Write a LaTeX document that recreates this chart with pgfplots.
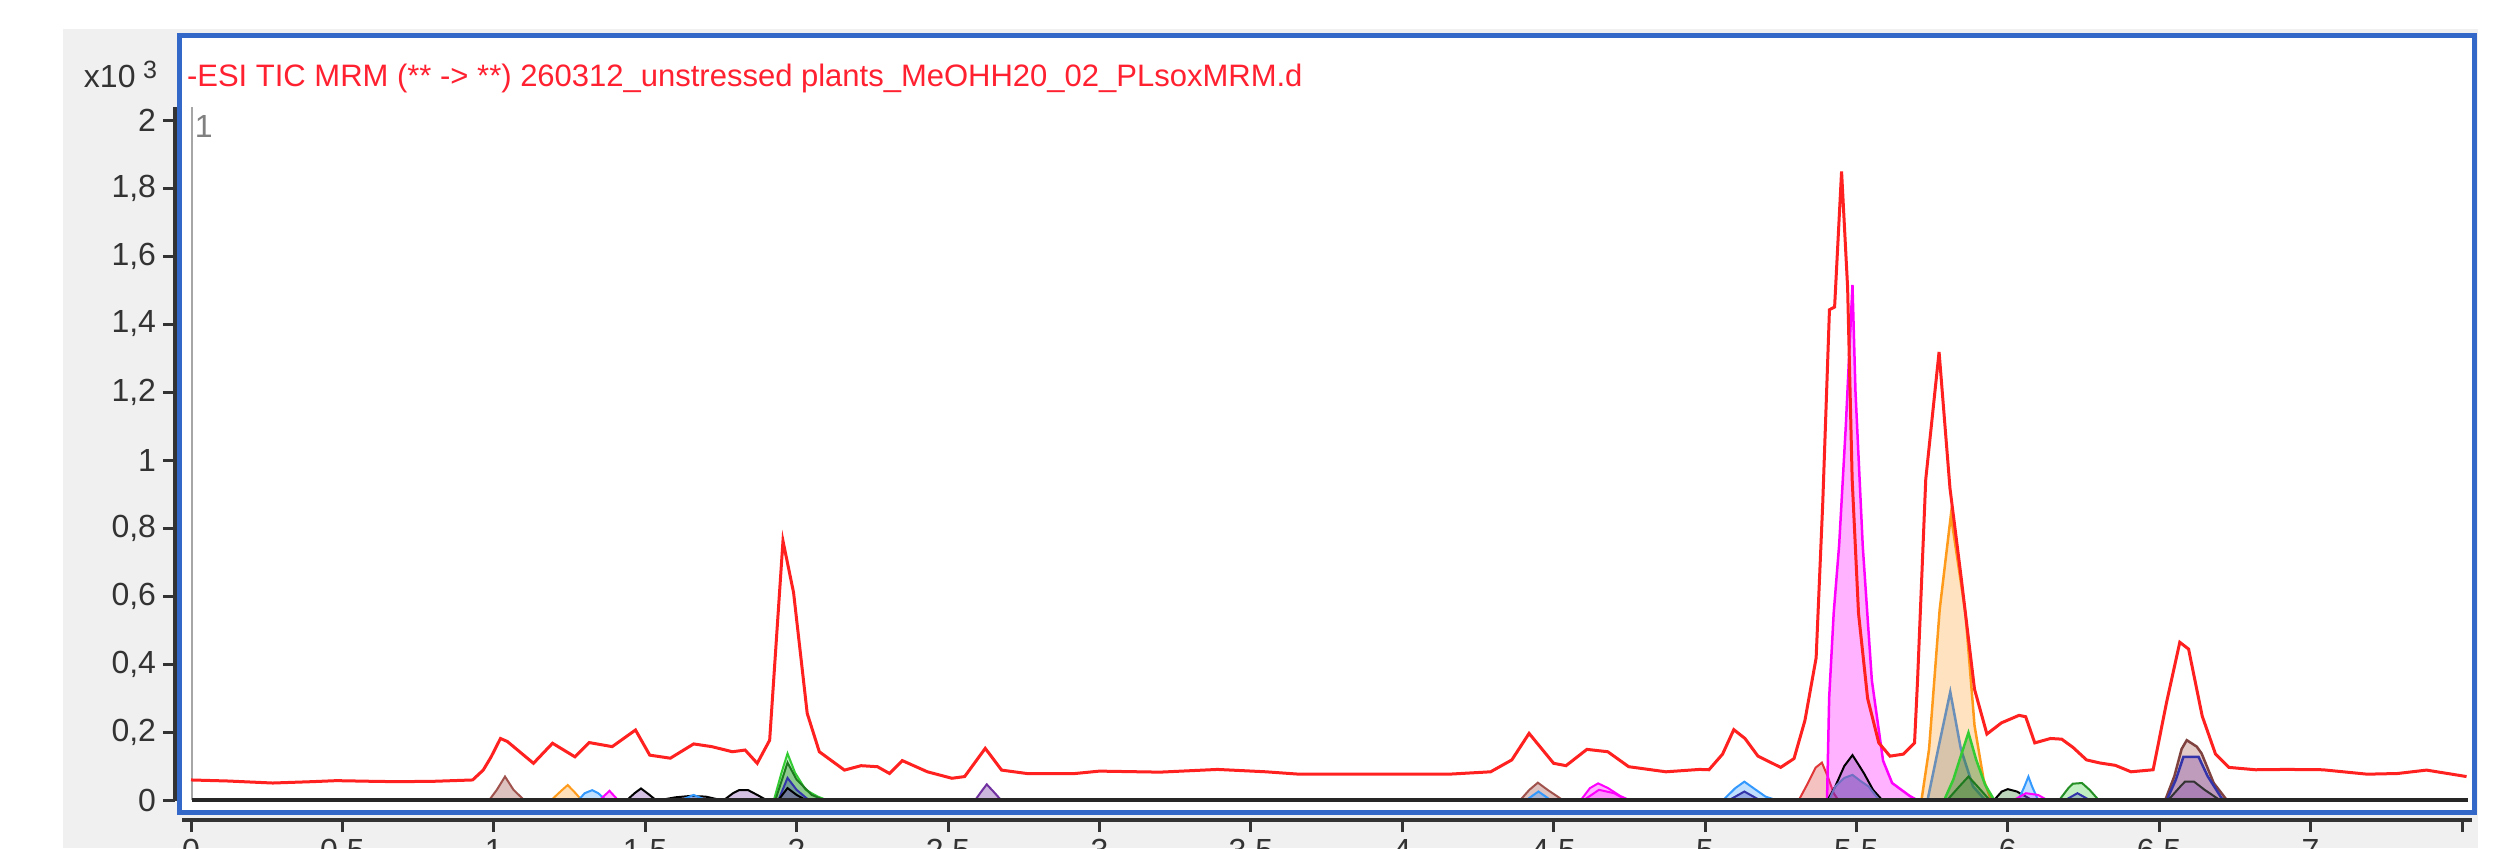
\documentclass[border=0pt]{standalone}
\usepackage{pgfplots}
\pgfplotsset{compat=1.18}
\usepackage{fontspec}
\setmainfont{Liberation Sans}
\definecolor{bgray}{HTML}{F0F0F0}
\definecolor{fblue}{HTML}{3468C8}
\definecolor{tred}{HTML}{FF2030}
\definecolor{lred}{HTML}{FF2020}
\definecolor{lblgray}{HTML}{333333}
\definecolor{cmag}{HTML}{FF00FF}
\definecolor{corange}{HTML}{FF9A1A}
\definecolor{csteel}{HTML}{6A8FB8}
\definecolor{cgreen}{HTML}{33CC33}
\definecolor{cdgreen}{HTML}{1E7A1E}
\definecolor{cblue}{HTML}{3399FF}
\definecolor{cnavy}{HTML}{3333AA}
\definecolor{cpurple}{HTML}{7030A0}
\definecolor{cbrown}{HTML}{A0524D}
\definecolor{cred}{HTML}{E03838}
\newcommand\tlfont{\fontsize{6.4}{7}\selectfont}
\begin{document}
\begin{tikzpicture}
\path[use as bounding box] (0pt,0pt) rectangle (502.2pt,169.6pt);
\begin{scope}[x=0.2pt,y=0.2pt]
\fill[white] (0,0) rectangle (2511,848);
\fill[bgray] (63,0) rectangle (2478,819);
\filldraw[fill=white, draw=fblue, line width=1pt] (179.5,35.5) rectangle (2474.5,813);
\draw[gray!70, line width=0.35pt] (192,48) -- (192,741);
\draw[lblgray, line width=0.7pt] (175,47) -- (175,741);
\draw[lblgray, line width=0.7pt] (182,28) -- (2472,28);
\end{scope}

% data axis
\begin{axis}[at={(38.2pt,9.6pt)}, anchor=south west, scale only axis,
  width=454.2pt, height=136pt, xmin=0, xmax=7.5, ymin=0, ymax=2,
  hide axis, clip=false]
% small peaks
\addplot[draw=cbrown, line width=0.4pt, fill=cbrown, fill opacity=0.35] coordinates {(0.985,0) (1.01,0.03) (1.037,0.069) (1.065,0.03) (1.10,0)} \closedcycle;
\addplot[draw=corange, line width=0.4pt, fill=corange, fill opacity=0.3] coordinates {(1.19,0) (1.22,0.025) (1.244,0.044) (1.265,0.025) (1.29,0)} \closedcycle;
\addplot[draw=cblue, line width=0.4pt, fill=cblue, fill opacity=0.3] coordinates {(1.28,0) (1.30,0.02) (1.325,0.029) (1.345,0.02) (1.37,0)} \closedcycle;
\addplot[draw=cmag, line width=0.4pt, fill=cmag, fill opacity=0.3] coordinates {(1.35,0) (1.382,0.027) (1.41,0)} \closedcycle;
\addplot[draw=black, line width=0.4pt, fill=cpurple, fill opacity=0.3] coordinates {(1.44,0) (1.465,0.02) (1.486,0.034) (1.51,0.018) (1.535,0)} \closedcycle;
\addplot[draw=black, line width=0.4pt, fill=cpurple, fill opacity=0.3] coordinates {(1.55,0) (1.6,0.008) (1.65,0.012) (1.7,0.01) (1.75,0)} \closedcycle;
\addplot[draw=cblue, line width=0.4pt, fill=cblue, fill opacity=0.3] coordinates {(1.62,0) (1.66,0.015) (1.70,0)} \closedcycle;
\addplot[draw=black, line width=0.4pt, fill=cpurple, fill opacity=0.3] coordinates {(1.76,0) (1.79,0.02) (1.81,0.029) (1.84,0.029) (1.87,0.015) (1.9,0)} \closedcycle;
% peaks near 2
\addplot[draw=cgreen, line width=0.4pt, fill=cgreen, fill opacity=0.3] coordinates {(1.925,0) (1.95,0.08) (1.97,0.137) (1.995,0.08) (2.03,0.03) (2.07,0.01) (2.10,0)} \closedcycle;
\addplot[draw=cdgreen, line width=0.4pt, fill=cdgreen, fill opacity=0.3] coordinates {(1.93,0) (1.97,0.11) (2.0,0.06) (2.05,0.015) (2.09,0)} \closedcycle;
\addplot[draw=cnavy, line width=0.4pt, fill=cnavy, fill opacity=0.3] coordinates {(1.94,0) (1.97,0.065) (2.0,0.03) (2.04,0)} \closedcycle;
\addplot[draw=black, line width=0.4pt, fill=cpurple, fill opacity=0.3] coordinates {(1.94,0) (1.97,0.035) (2.0,0.015) (2.03,0)} \closedcycle;
\addplot[draw=cpurple, line width=0.4pt, fill=cpurple, fill opacity=0.35] coordinates {(2.59,0) (2.61,0.025) (2.628,0.046) (2.65,0.025) (2.675,0)} \closedcycle;
% 4.4 - 5.2
\addplot[draw=cbrown, line width=0.4pt, fill=cbrown, fill opacity=0.35] coordinates {(4.39,0) (4.42,0.03) (4.448,0.051) (4.48,0.03) (4.53,0)} \closedcycle;
\addplot[draw=cblue, line width=0.4pt, fill=cblue, fill opacity=0.3] coordinates {(4.41,0) (4.45,0.025) (4.49,0)} \closedcycle;
\addplot[draw=cmag, line width=0.4pt, fill=cmag, fill opacity=0.3] coordinates {(4.59,0) (4.62,0.035) (4.647,0.049) (4.68,0.035) (4.72,0.012) (4.75,0)} \closedcycle;
\addplot[draw=cmag, line width=0.4pt, fill=cmag, fill opacity=0.2] coordinates {(4.60,0) (4.65,0.03) (4.70,0.02) (4.74,0)} \closedcycle;
\addplot[draw=cblue, line width=0.4pt, fill=cblue, fill opacity=0.3] coordinates {(5.06,0) (5.10,0.035) (5.13,0.054) (5.16,0.035) (5.20,0.01) (5.235,0)} \closedcycle;
\addplot[draw=cnavy, line width=0.4pt, fill=cnavy, fill opacity=0.3] coordinates {(5.08,0) (5.13,0.025) (5.18,0)} \closedcycle;
% 5.4 - 5.6 group
\addplot[draw=cred, line width=0.4pt, fill=cred, fill opacity=0.3] coordinates {(5.31,0) (5.34,0.05) (5.365,0.095) (5.386,0.11) (5.405,0.07) (5.425,0.02) (5.44,0)} \closedcycle;
\addplot[draw=cmag, line width=0.5pt, fill=cmag, fill opacity=0.3] coordinates {(5.403,0) (5.41,0.3) (5.425,0.55) (5.443,0.75) (5.465,1.1) (5.487,1.515) (5.497,1.2) (5.521,0.746) (5.551,0.352) (5.588,0.116) (5.618,0.05) (5.676,0.012) (5.70,0)} \closedcycle;
\addplot[draw=black, line width=0.4pt, fill=cpurple, fill opacity=0.3] coordinates {(5.405,0) (5.43,0.04) (5.46,0.1) (5.487,0.132) (5.51,0.1) (5.526,0.077) (5.555,0.03) (5.585,0)} \closedcycle;
\addplot[draw=cnavy!70!white, line width=0.4pt, fill=cnavy, fill opacity=0.25] coordinates {(5.41,0) (5.43,0.04) (5.46,0.065) (5.487,0.074) (5.515,0.055) (5.54,0.04) (5.575,0)} \closedcycle;
% 5.8 group
\addplot[draw=corange, line width=0.5pt, fill=corange, fill opacity=0.28] coordinates {(5.715,0) (5.74,0.15) (5.775,0.56) (5.812,0.838) (5.86,0.55) (5.89,0.22) (5.92,0.06) (5.945,0)} \closedcycle;
\addplot[draw=csteel, line width=0.5pt, fill=gray, fill opacity=0.3] coordinates {(5.735,0) (5.77,0.15) (5.81,0.318) (5.845,0.15) (5.885,0.04) (5.925,0)} \closedcycle;
\addplot[draw=cgreen, line width=0.5pt, fill=cdgreen, fill opacity=0.35] coordinates {(5.79,0) (5.82,0.06) (5.845,0.13) (5.87,0.198) (5.895,0.12) (5.925,0.045) (5.955,0)} \closedcycle;
\addplot[draw=cdgreen, line width=0.4pt, fill=cdgreen, fill opacity=0.3] coordinates {(5.80,0) (5.84,0.04) (5.87,0.069) (5.90,0.04) (5.94,0)} \closedcycle;
% 6.0 - 6.3
\addplot[draw=black, line width=0.4pt, fill=cdgreen, fill opacity=0.3] coordinates {(5.955,0) (5.98,0.025) (6.0,0.032) (6.03,0.025) (6.08,0)} \closedcycle;
\addplot[draw=cblue, line width=0.4pt, fill=cblue, fill opacity=0.3] coordinates {(6.035,0) (6.055,0.04) (6.068,0.069) (6.08,0.04) (6.10,0)} \closedcycle;
\addplot[draw=cmag, line width=0.4pt, fill=cmag, fill opacity=0.2] coordinates {(6.02,0) (6.06,0.02) (6.1,0.015) (6.13,0)} \closedcycle;
\addplot[draw=cgreen!70!black, line width=0.4pt, fill=cgreen, fill opacity=0.3] coordinates {(6.17,0) (6.20,0.035) (6.215,0.048) (6.245,0.05) (6.27,0.03) (6.30,0)} \closedcycle;
\addplot[draw=cnavy, line width=0.4pt, fill=cnavy, fill opacity=0.25] coordinates {(6.19,0) (6.23,0.02) (6.27,0)} \closedcycle;
% 6.6 group
\addplot[draw=cbrown!80!black, line width=0.5pt, fill=cbrown, fill opacity=0.3] coordinates {(6.52,0) (6.55,0.07) (6.574,0.15) (6.591,0.176) (6.624,0.157) (6.64,0.137) (6.68,0.05) (6.723,0)} \closedcycle;
\addplot[draw=cnavy, line width=0.5pt, fill=cpurple, fill opacity=0.3] coordinates {(6.525,0) (6.555,0.06) (6.58,0.127) (6.63,0.127) (6.66,0.07) (6.71,0)} \closedcycle;
\addplot[draw=black!80, line width=0.4pt, fill=cpurple, fill opacity=0.25] coordinates {(6.53,0) (6.57,0.04) (6.585,0.054) (6.615,0.054) (6.65,0.03) (6.70,0)} \closedcycle;
% baseline
\addplot[draw=black!85, line width=0.7pt] coordinates {(0.003,0) (7.52,0)};
% TIC
\addplot[draw=lred, line width=0.6pt] coordinates {
(0,0.059) (0.12,0.056) (0.27,0.050) (0.4,0.054) (0.48,0.057) (0.6,0.055) (0.68,0.054) (0.8,0.055) (0.93,0.059) (0.965,0.088) (0.99,0.125)
(1.022,0.181) (1.045,0.172) (1.131,0.108) (1.194,0.167) (1.268,0.127) (1.315,0.169) (1.391,0.157) (1.468,0.206) (1.515,0.132) (1.583,0.123)
(1.660,0.165) (1.72,0.157) (1.788,0.142) (1.83,0.147) (1.870,0.108) (1.911,0.176) (1.955,0.762) (1.99,0.61) (2.035,0.255) (2.075,0.142)
(2.158,0.088) (2.213,0.101) (2.267,0.098) (2.307,0.078) (2.349,0.116) (2.432,0.083) (2.513,0.064) (2.555,0.069) (2.623,0.152) (2.677,0.088)
(2.760,0.078) (2.92,0.078) (3.0,0.085) (3.2,0.082) (3.39,0.090) (3.55,0.083) (3.66,0.076) (3.878,0.076) (4.154,0.076) (4.292,0.083)
(4.362,0.118) (4.419,0.196) (4.50,0.108) (4.541,0.101) (4.61,0.149) (4.679,0.142) (4.748,0.098) (4.871,0.083) (4.982,0.090) (5.013,0.089)
(5.058,0.135) (5.095,0.207) (5.132,0.181) (5.175,0.129) (5.25,0.096) (5.294,0.122) (5.330,0.234) (5.367,0.418) (5.389,0.877) (5.411,1.442)
(5.428,1.45) (5.451,1.849) (5.471,1.507) (5.486,0.943) (5.507,0.549) (5.537,0.299) (5.574,0.168) (5.611,0.129) (5.655,0.135) (5.692,0.168)
(5.702,0.353) (5.729,0.943) (5.773,1.318) (5.809,0.917) (5.846,0.654) (5.890,0.326) (5.931,0.194) (5.979,0.227) (6.037,0.249) (6.059,0.245)
(6.089,0.168) (6.141,0.181) (6.178,0.179) (6.215,0.155) (6.26,0.118) (6.304,0.109) (6.355,0.102) (6.407,0.083) (6.48,0.089) (6.524,0.286)
(6.568,0.464) (6.597,0.444) (6.642,0.247) (6.686,0.135) (6.73,0.096) (6.818,0.089) (6.921,0.090) (7.04,0.089) (7.187,0.076) (7.287,0.078)
(7.383,0.088) (7.515,0.069)};
\end{axis}

% x ticks
\begin{axis}[at={(38.2pt,5.6pt)}, anchor=south west, scale only axis,
  width=454.2pt, height=10pt, xmin=0, xmax=7.5, ymin=0, ymax=1,
  axis x line*=bottom, hide y axis, x axis line style={draw=none},
  xtick={0,0.5,1,1.5,2,2.5,3,3.5,4,4.5,5,5.5,6,6.5,7,7.5},
  xticklabels={0,{0,5},1,{1,5},2,{2,5},3,{3,5},4,{4,5},5,{5,5},6,{6,5},7,{}},
  tick align=outside, major tick length=2.4pt,
  xtick style={line width=0.6pt, color=lblgray},
  xticklabel style={font=\tlfont, text=lblgray, inner sep=1.2pt}]
\addplot[draw=none] coordinates {(0,0)};
\end{axis}

% y ticks
\begin{axis}[at={(35pt,9.6pt)}, anchor=south west, scale only axis,
  width=5pt, height=136pt, xmin=0, xmax=1, ymin=0, ymax=2,
  axis y line*=left, hide x axis, y axis line style={draw=none},
  ytick={0,0.2,0.4,0.6,0.8,1,1.2,1.4,1.6,1.8,2}, tick align=outside, major tick length=2.4pt,
  ytick style={line width=0.6pt, color=lblgray},
  yticklabel style={font=\tlfont, text=lblgray, inner sep=1.2pt},
  /pgf/number format/.cd, use comma, fixed, 1000 sep={}, assume math mode=true]
\addplot[draw=none] coordinates {(0,0)};
\end{axis}

\begin{scope}[x=0.2pt,y=0.2pt]
\node[anchor=base west, inner sep=0, text=tred, font=\fontsize{6.2}{7}\selectfont] at (186,762) {-ESI TIC MRM (** -> **) 260312\_unstressed plants\_MeOHH20\_02\_PLsoxMRM.d};
\node[anchor=base west, inner sep=0, text=lblgray, font=\tlfont] at (83,761) {x10};
\node[anchor=base west, inner sep=0, text=lblgray, font=\fontsize{5}{6}\selectfont] at (142,770) {3};
\node[anchor=base west, inner sep=0, text=gray, font=\tlfont] at (194,711) {1};
\end{scope}
\end{tikzpicture}
\end{document}
